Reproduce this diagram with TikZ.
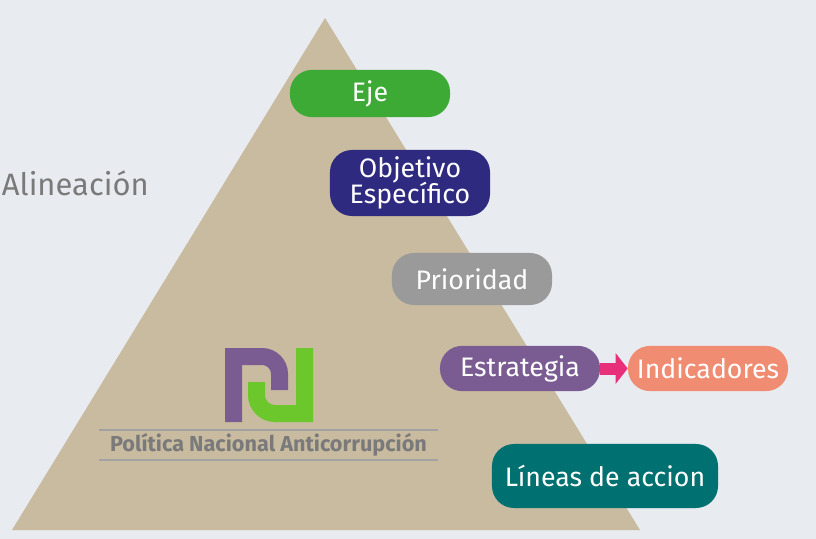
\documentclass[tikz,border=0pt]{standalone}
\usepackage{fontspec}
\setmainfont{Fira Sans}
\usetikzlibrary{arrows.meta}
\definecolor{bgcol}{HTML}{E8EBF0}
\definecolor{tancol}{HTML}{C9BBA0}
\definecolor{ejecol}{HTML}{3DAA35}
\definecolor{objcol}{HTML}{2E2A80}
\definecolor{pricol}{HTML}{9A9A9A}
\definecolor{estcol}{HTML}{7A5C93}
\definecolor{indcol}{HTML}{F08C72}
\definecolor{lincol}{HTML}{007070}
\definecolor{pinkcol}{HTML}{E8307A}
\definecolor{logogreen}{HTML}{6CC72C}
\definecolor{logogray}{HTML}{7A7A7A}
\tikzset{
  pill/.style={rounded corners=0.55cm, text=white, font=\fontsize{19}{21}\selectfont,
    align=center, inner sep=0pt, minimum width=4cm},
}
\begin{document}
\begin{tikzpicture}[x=0.025cm, y=-0.025cm]
  \useasboundingbox[fill=bgcol] (0,0) rectangle (816,539);
  \fill[tancol] (325,18) -- (640,530) -- (12,530) -- cycle;
  \node[anchor=west, text=logogray, font=\fontsize{22}{24}\selectfont] (alin) at (-3,183) {Alineación};

  \node[pill, fill=ejecol, minimum height=1.18cm] (eje) at (370,93.5) {Eje};
  \node[pill, fill=objcol, minimum height=1.65cm] (obj) at (410,183) {Objetivo\\[-3pt]Específico};
  \node[pill, fill=pricol, minimum height=1.3cm] (pri) at (472,279) {Prioridad};
  \node[pill, fill=estcol, minimum height=1.13cm] (est) at (520,368.5) {Estrategia};
  \node[pill, fill=indcol, minimum height=1.13cm] (ind) at (708,368.5) {Indicadores};
  \node[pill, fill=lincol, minimum height=1.6cm, minimum width=5.65cm] (lin) at (605,476) {Líneas de accion};
  \draw[pinkcol, line width=0.3cm, -{Triangle[length=0.3cm,width=0.75cm]}] (est.east) -- (ind.west);

  % logo
  \draw[estcol, line width=0.425cm] (233.5,422) -- (233.5,356.5) -- (262,356.5)
    arc[start angle=270, end angle=360, radius=17.5] -- (279.5,390);
  \draw[logogreen, line width=0.425cm] (304.5,348) -- (304.5,413.5) -- (275,413.5)
    arc[start angle=90, end angle=180, radius=18.5] -- (256.5,382);
  \draw[logogray!70, line width=0.8pt] (99,430) -- (438,430) (99,460) -- (438,460);
  \node[text=logogray, font=\bfseries\fontsize{15.4}{17}\selectfont] (pna) at (268.5,445) {Política Nacional Anticorrupción};
\end{tikzpicture}
\end{document}
